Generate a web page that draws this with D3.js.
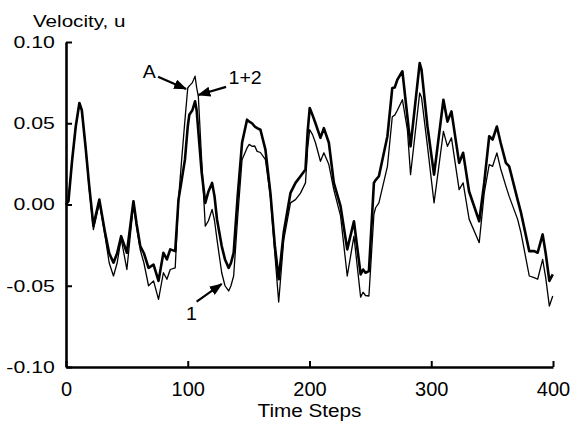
<html>
<head>
  <script src="https://d3js.org/d3.v7.min.js"></script>
  <style>
    body { margin: 0; background: #fff; }
    text { font-family: 'Liberation Sans', Arial, Helvetica, sans-serif; fill: #000; }
    .axis .domain { stroke: #000; stroke-width: 2.6px; }
    .axis .tick line { stroke: #000; stroke-width: 2px; }
  </style>
</head>
<body>
  <svg id="chart" width="572" height="422"></svg>
  <script>
    // time steps sampled along the curves
    const steps = [0, 2, 5, 8, 11, 13, 16, 19, 22.5, 27.4, 32, 35.5, 39, 42, 45.3, 50, 55.4, 58, 61, 64,
      67.8, 71.9, 76, 80, 82.9, 85.6, 89.7, 92.4, 95, 97.7, 100, 101.3, 103.8, 106, 107.3, 108.7, 111.4,
      114.4, 117, 120, 122, 124, 127.9, 130.6, 133.6, 135.5, 137.7, 141, 144.6, 148.7, 150.5, 152.8, 155,
      157, 159.7, 163.8, 167.9, 171.5, 174.7, 178.8, 184.4, 188.5, 192.6, 196.7, 198.5, 200.2, 202.5,
      204.9, 209, 211.8, 215.9, 220, 225.5, 231, 236.5, 242, 244, 246, 248.8, 252.9, 254.3, 257, 264,
      268, 270, 272.2, 276.3, 280.4, 283, 290.5, 292, 296.9, 302.3, 310, 313.3, 316.6, 322.9, 326.2,
      331.1, 339.4, 343.5, 347.6, 350.4, 353.9, 357, 361.3, 364, 370.9, 373.7, 380.5, 384.6, 387.4,
      391.5, 394, 397, 399.8];

    // curve "1+2" (heavy line)
    const velocity12 = [0, 0.002, 0.027, 0.048, 0.0625, 0.058, 0.036, 0.012, -0.013, 0.003, -0.017, -0.030,
      -0.0358, -0.030, -0.0195, -0.0297, 0.002, -0.012, -0.0256, -0.030, -0.039, -0.037, -0.047, -0.0297,
      -0.0338, -0.0276, -0.0287, 0.003, 0.015, 0.0276, 0.048, 0.0553, 0.058, 0.0635, 0.058, 0.045, 0.020,
      0.001, 0.008, 0.0133, 0.005, -0.009, -0.0256, -0.0338, -0.039, -0.036, -0.0297, 0.005, 0.038,
      0.0522, 0.051, 0.050, 0.048, 0.047, 0.046, 0.0338, 0.007, -0.025, -0.046, -0.0174, 0.0072, 0.0133,
      0.0174, 0.0215, 0.045, 0.0594, 0.055, 0.050, 0.041, 0.047, 0.038, 0.0133, -0.001, -0.0276, -0.0103,
      -0.043, -0.040, -0.042, -0.041, 0.0133, 0.015, 0.0174, 0.042, 0.0717, 0.072, 0.0768, 0.082, 0.054,
      0.0358, 0.087, 0.083, 0.048, 0.0184, 0.0645, 0.051, 0.0573, 0.0256, 0.0318, 0.008, -0.0103, 0.0133,
      0.042, 0.040, 0.048, 0.038, 0.0256, 0.0235, 0.003, -0.005, -0.0287, -0.0287, -0.0297, -0.0184,
      -0.030, -0.047, -0.043];

    // curve "1" (light line)
    const velocity1 = [0, 0.002, 0.027, 0.048, 0.0625, 0.058, 0.036, 0.010, -0.0155, 0.001, -0.019, -0.036,
      -0.044, -0.036, -0.021, -0.040, 0.000, -0.014, -0.028, -0.036, -0.050, -0.047, -0.0584, -0.042,
      -0.046, -0.040, -0.039, 0.003, 0.0276, 0.052, 0.0717, 0.073, 0.075, 0.079, 0.072, 0.0665, 0.0276,
      -0.0133, -0.010, -0.003, -0.010, -0.0215, -0.042, -0.050, -0.0532, -0.050, -0.044, -0.008, 0.0276,
      0.0348, 0.037, 0.0358, 0.036, 0.0327, 0.032, 0.0276, 0.005, -0.030, -0.060, -0.022, 0.001, 0.003,
      0.007, 0.0133, 0.035, 0.046, 0.043, 0.038, 0.0266, 0.0318, 0.0246, 0.009, -0.007, -0.044, -0.0195,
      -0.057, -0.054, -0.056, -0.0563, -0.006, -0.002, 0.001, 0.0235, 0.054, 0.055, 0.058, 0.0645, 0.046,
      0.0184, 0.0686, 0.066, 0.0358, 0.001, 0.045, 0.0358, 0.041, 0.0092, 0.0133, -0.009, -0.0235, 0.007,
      0.0246, 0.0235, 0.0318, 0.022, 0.0113, 0.005, -0.009, -0.0174, -0.044, -0.045, -0.046, -0.0338,
      -0.045, -0.0625, -0.0563];

    const xTicks = [0, 100, 200, 300, 400];
    const yTicks = [-0.10, -0.05, 0.00, 0.05, 0.10];
    const yTickLabels = ["-0.10", "-0.05", "0.00", "0.05", "0.10"];

    // labels with arrows, in data units
    const notes = [
      { label: "A", anchor: "middle", t: 68.3, v: 0.0777, t1: 75.6, v1: 0.0786, t2: 98.6, v2: 0.0711 },
      { label: "1+2", anchor: "start", t: 133.5, v: 0.0742, t1: 131.5, v1: 0.0724, t2: 108.7, v2: 0.0674 },
      { label: "1", anchor: "middle", t: 103.1, v: -0.0711, t1: 107.3, v1: -0.0598, t2: 127.9, v2: -0.0489 }
    ];

    const svg = d3.select("svg#chart");

    const x = d3.scaleLinear().domain([0, 400]).range([66, 553]);
    const y = d3.scaleLinear().domain([-0.1, 0.1]).range([367, 42]);

    svg.append("defs").append("marker")
      .attr("id", "head")
      .attr("markerUnits", "userSpaceOnUse")
      .attr("markerWidth", 13).attr("markerHeight", 10)
      .attr("refX", 12).attr("refY", 5)
      .attr("orient", "auto")
      .append("path")
      .attr("d", "M0,0 L13,5 L0,10 Z")
      .attr("fill", "#000");

    //axes
    let leftAxis = d3.axisLeft(y)
      .tickValues(yTicks)
      .tickFormat((d, i) => yTickLabels[i])
      .tickSizeInner(-6)
      .tickSizeOuter(0)
      .tickPadding(9);

    let bottomAxis = d3.axisBottom(x)
      .tickValues(xTicks)
      .tickSizeInner(-6)
      .tickSizeOuter(0)
      .tickPadding(14.5);

    const gy = svg.append("g")
      .attr("class", "y axis")
      .attr("transform", "translate(" + x(0) + ",0)")
      .call(leftAxis);
    gy.selectAll("text")
      .attr("font-size", "17px")
      .attr("font-family", null)
      .attr("transform", "scale(1.25,1)");

    const gx = svg.append("g")
      .attr("class", "x axis")
      .attr("transform", "translate(0," + y(-0.1) + ")")
      .call(bottomAxis);
    gx.selectAll("text")
      .attr("font-size", "20px")
      .attr("font-family", null);

    //curves
    const line = d3.line()
      .x((d, i) => x(steps[i]))
      .y(d => y(d));

    svg.append("path")
      .datum(velocity1)
      .attr("d", line)
      .attr("fill", "none")
      .attr("stroke", "#000")
      .attr("stroke-width", 1.3)
      .attr("stroke-linejoin", "round");

    svg.append("path")
      .datum(velocity12)
      .attr("d", line)
      .attr("fill", "none")
      .attr("stroke", "#000")
      .attr("stroke-width", 2.6)
      .attr("stroke-linejoin", "round");

    //annotations
    const note = svg.selectAll("g.note")
      .data(notes)
      .enter()
      .append("g")
      .attr("class", "note");

    note.append("line")
      .attr("x1", d => x(d.t1)).attr("y1", d => y(d.v1))
      .attr("x2", d => x(d.t2)).attr("y2", d => y(d.v2))
      .attr("stroke", "#000")
      .attr("stroke-width", 2.2)
      .attr("marker-end", "url(#head)");

    note.append("text")
      .attr("transform", d => "translate(" + x(d.t) + "," + y(d.v) + ") scale(1.12,1)")
      .attr("text-anchor", d => d.anchor)
      .attr("font-size", "17.5px")
      .text(d => d.label);

    //axis titles
    svg.append("text")
      .attr("transform", "translate(33,26.5) scale(1.25,1)")
      .attr("font-size", "16.5px")
      .text("Velocity, u");

    svg.append("text")
      .attr("transform", "translate(" + x(200) + ",417) scale(1.12,1)")
      .attr("text-anchor", "middle")
      .attr("font-size", "18.5px")
      .text("Time Steps");
  </script>
</body>
</html>
